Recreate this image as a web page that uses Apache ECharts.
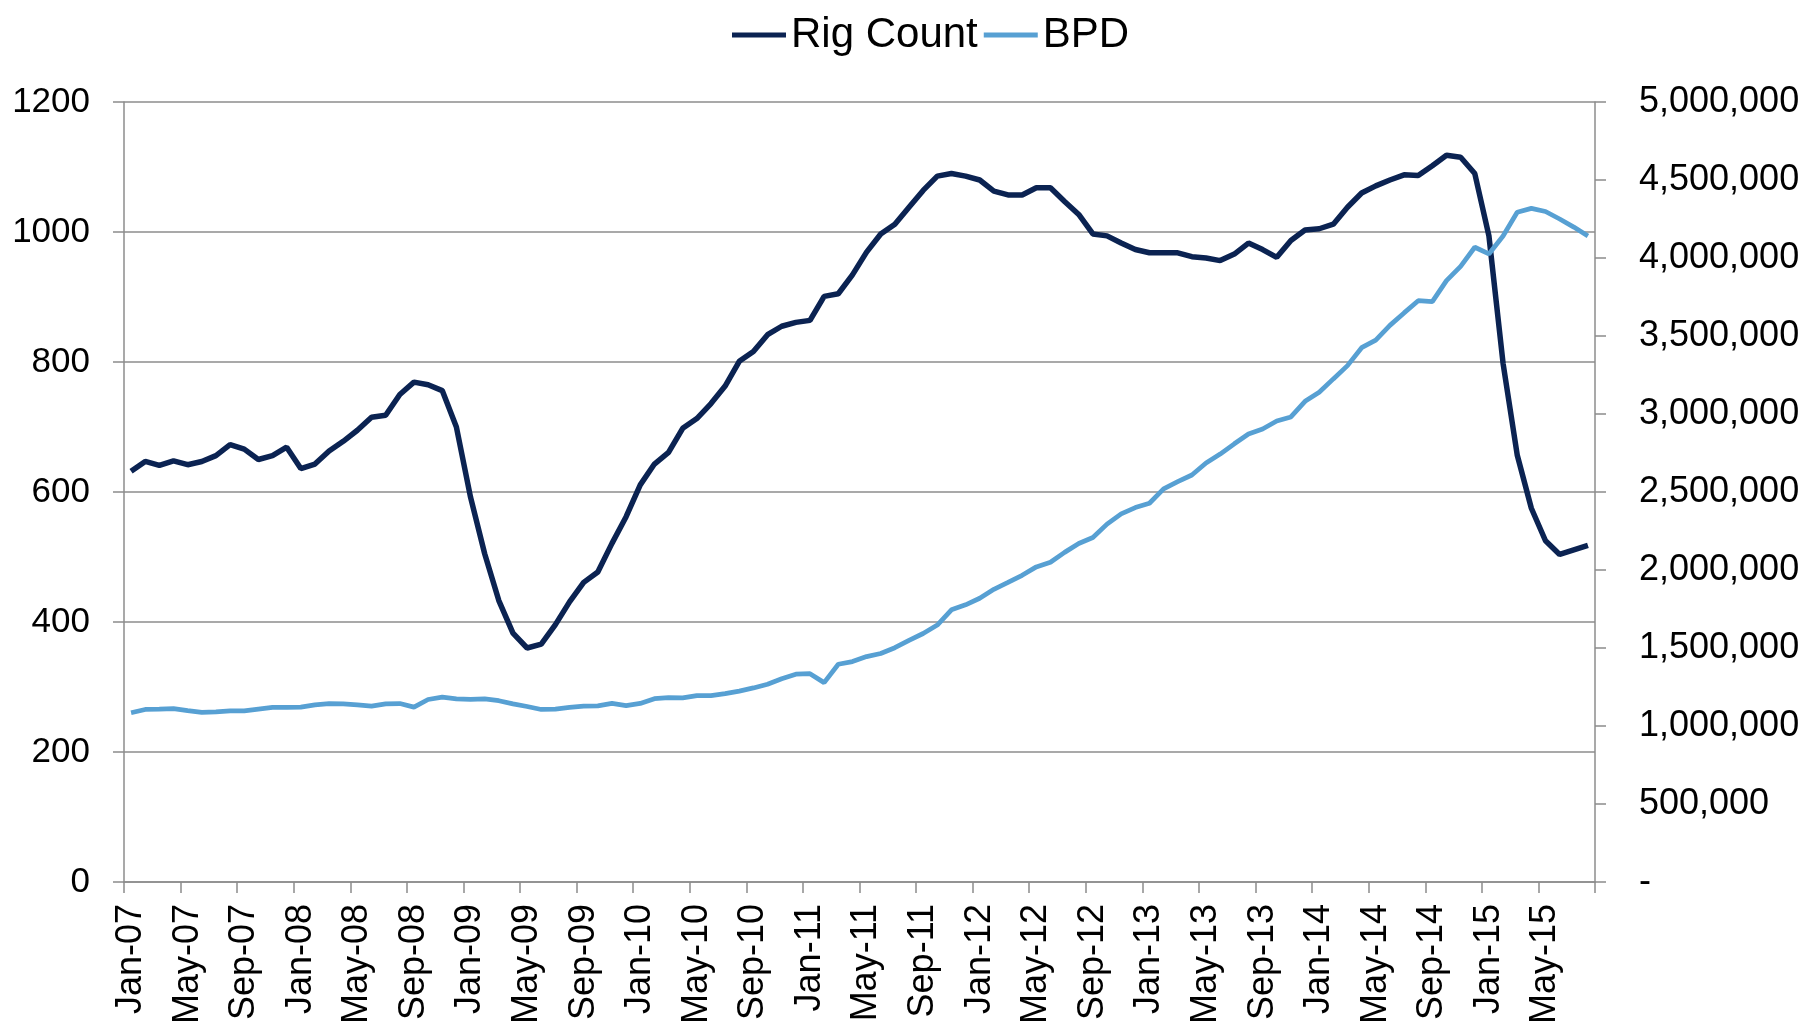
<!DOCTYPE html>
<html>
<head>
<meta charset="utf-8">
<script src="https://cdn.jsdelivr.net/npm/echarts@6/dist/echarts.min.js"></script>
<style>
  html, body { margin: 0; padding: 0; background: #fff; }
  #chart { width: 1810px; height: 1031px; }
</style>
</head>
<body>
<div id="chart"></div>
<script>
'use strict';
// Rig count vs BPD, monthly Jan-07 .. Aug-15

const MONTHS = ['Jan', 'Feb', 'Mar', 'Apr', 'May', 'Jun', 'Jul', 'Aug', 'Sep', 'Oct', 'Nov', 'Dec'];
const YEARS = ['07', '08', '09', '10', '11', '12', '13', '14', '15'];
const N_POINTS = 104;

const RIG_COUNT = [
  632, 647, 641, 648, 642, 647, 656, 673, 666, 650, 656, 669,
  636, 643, 663, 678, 695, 715, 718, 750, 769, 765, 756, 700,
  592, 505, 433, 383, 360, 366, 396, 431, 461, 477, 521, 562,
  611, 643, 661, 698, 713, 736, 763, 801, 816, 842, 855, 861,
  864, 901, 905, 934, 969, 997, 1012, 1038, 1064, 1086, 1090, 1086,
  1080, 1063, 1057, 1057, 1068, 1068, 1047, 1027, 997, 994, 983, 973,
  968, 968, 968, 962, 960, 956, 966, 983, 973, 961, 987, 1003,
  1005, 1012, 1038, 1060, 1071, 1080, 1088, 1087, 1102, 1118, 1115, 1090,
  994, 798, 657, 575, 525, 504, 511, 518
];

const BPD = [
  1085000, 1106000, 1108000, 1112000, 1099000, 1087000, 1091000, 1097000, 1097000, 1108000, 1119000, 1119000,
  1121000, 1136000, 1144000, 1142000, 1136000, 1127000, 1142000, 1144000, 1121000, 1170000, 1185000, 1174000,
  1170000, 1174000, 1162000, 1142000, 1125000, 1106000, 1108000, 1120000, 1128000, 1129000, 1145000, 1131000,
  1145000, 1175000, 1182000, 1180000, 1195000, 1195000, 1207000, 1224000, 1244000, 1268000, 1303000, 1332000,
  1335000, 1278000, 1396000, 1413000, 1445000, 1465000, 1502000, 1549000, 1593000, 1647000, 1745000, 1777000,
  1819000, 1876000, 1920000, 1966000, 2020000, 2050000, 2113000, 2170000, 2208000, 2294000, 2360000, 2400000,
  2428000, 2520000, 2566000, 2609000, 2686000, 2743000, 2809000, 2872000, 2904000, 2955000, 2981000, 3081000,
  3139000, 3225000, 3310000, 3425000, 3474000, 3568000, 3648000, 3726000, 3720000, 3855000, 3946000, 4069000,
  4026000, 4141000, 4293000, 4318000, 4298000, 4250000, 4198000, 4141000
];

const COLORS = { rig: '#0B2352', bpd: '#57A0D3', axis: '#8C8C8C', text: '#000000' };
const FONT = "'Liberation Sans', Arial, sans-serif";

const categories = [];
YEARS.forEach(y => MONTHS.forEach(m => { if (categories.length < N_POINTS) categories.push(m + '-' + y); }));

// Excel accounting style on the secondary axis: thousands separators, '-' for zero
function fmtBpd(v) {
  if (v === 0) return '-';
  return String(v).replace(/\B(?=(\d{3})+(?!\d))/g, ',');
}

const chart = echarts.init(document.getElementById('chart'));
chart.setOption({
  animation: false,
  textStyle: { fontFamily: FONT, color: COLORS.text },
  legend: {
    left: 727, top: 9,
    itemWidth: 54, itemHeight: 5, itemGap: 6,
    icon: 'rect',
    textStyle: { fontFamily: FONT, fontSize: 42, color: COLORS.text },
    data: ['Rig Count', 'BPD']
  },
  grid: { left: 124, right: 215, top: 102, bottom: 149 },
  xAxis: {
    type: 'category', data: categories, boundaryGap: true,
    axisLine: { show: true, lineStyle: { color: COLORS.axis, width: 1.5 } },
    axisTick: { show: true, interval: 3, length: 11, lineStyle: { color: COLORS.axis, width: 1.5 } },
    axisLabel: { interval: 3, rotate: 90, margin: 22, fontSize: 36, color: COLORS.text, fontFamily: FONT },
    splitLine: { show: false }
  },
  yAxis: [
    {
      type: 'value', min: 0, max: 1200, interval: 200, position: 'left',
      axisLine: { show: true, lineStyle: { color: COLORS.axis, width: 1.5 } },
      axisTick: { show: true, length: 11, lineStyle: { color: COLORS.axis, width: 1.5 } },
      axisLabel: { margin: 34, fontSize: 35, color: COLORS.text, fontFamily: FONT, formatter: v => String(v) },
      splitLine: { show: true, lineStyle: { color: COLORS.axis, width: 1.5 } }
    },
    {
      type: 'value', min: 0, max: 5000000, interval: 500000, position: 'right',
      axisLine: { show: true, lineStyle: { color: COLORS.axis, width: 1.5 } },
      axisTick: { show: true, length: 11, lineStyle: { color: COLORS.axis, width: 1.5 } },
      axisLabel: { margin: 44, fontSize: 36, color: COLORS.text, fontFamily: FONT, align: 'left', formatter: fmtBpd },
      splitLine: { show: false }
    }
  ],
  series: [
    {
      name: 'Rig Count', type: 'line', yAxisIndex: 0, data: RIG_COUNT,
      symbol: 'none', smooth: false,
      lineStyle: { color: COLORS.rig, width: 5.5 }, itemStyle: { color: COLORS.rig }
    },
    {
      name: 'BPD', type: 'line', yAxisIndex: 1, data: BPD,
      symbol: 'none', smooth: false,
      lineStyle: { color: COLORS.bpd, width: 4.75 }, itemStyle: { color: COLORS.bpd }
    }
  ]
});
window.addEventListener('resize', () => chart.resize());
</script>
</body>
</html>
